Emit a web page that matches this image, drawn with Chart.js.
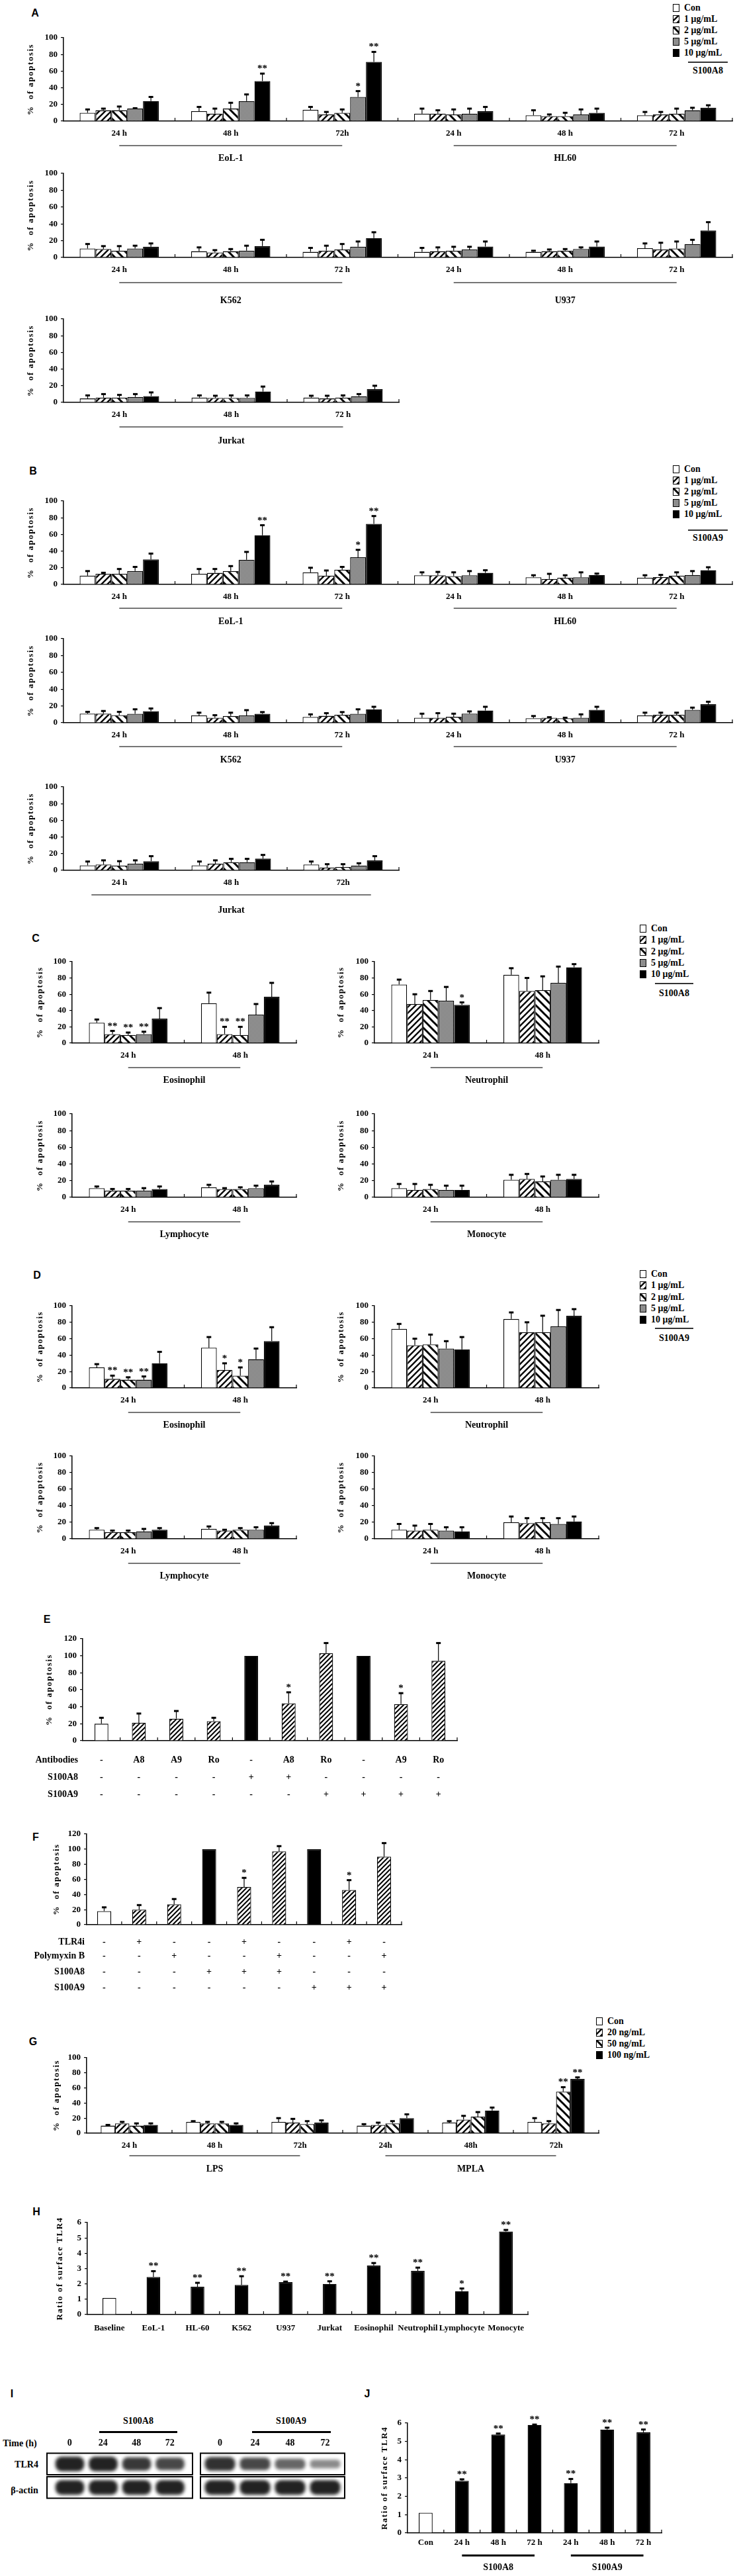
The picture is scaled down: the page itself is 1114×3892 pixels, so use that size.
<!DOCTYPE html>
<html>
<head>
<meta charset="utf-8">
<script src="https://cdn.jsdelivr.net/npm/chart.js@4.4.1/dist/chart.umd.min.js"></script>
<style>
  body { margin: 0; background: #fff; }
  #page { position: relative; width: 1114px; height: 3892px; overflow: hidden;
          font-family: "Liberation Serif", serif; font-weight: bold; color: #000; }
  .t { position: absolute; white-space: nowrap; line-height: 18px; }
  .letter { font-family: "Liberation Sans", Arial, sans-serif; font-size: 16px; }
</style>
</head>
<body>
<div id="page"></div>
<script>
// ---------- data ----------
// rows = time point, columns = Con, 1, 2, 5, 10 ug/mL
let concNames = ['Con', '1 μg/mL', '2 μg/mL', '5 μg/mL', '10 μg/mL'];
let lpsNames = ['Con', '20 ng/mL', '50 ng/mL', '100 ng/mL'];

let A1_labels = ['24 h', '48 h', '72h', '24 h', '48 h', '72 h'];
let A1_mean = [[10, 13, 13, 15, 24], [12, 9, 15, 24, 48], [13.5, 8, 10, 29, 71], [9, 9, 8, 9, 12], [7, 6, 6, 8, 10], [7, 8, 9, 13, 16]];
let A1_err = [[14, 15, 17.5, 15.5, 29], [17, 15, 22, 32, 57], [17, 11, 14, 36, 83], [15, 13, 14, 15, 17], [13, 8, 10, 14, 15], [11, 11, 15, 16, 19]];
let A1_sig = [[1, 4, '**'], [2, 3, '*'], [2, 4, '**']];

let A2_labels = ['24 h', '48 h', '72 h', '24 h', '48 h', '72 h'];
let A2_mean = [[10.6, 10, 8, 10.6, 12.7], [7.4, 6, 7.4, 8, 13.5], [6.6, 8, 9.5, 12.7, 23], [6.6, 7.4, 8, 9.5, 13], [6.6, 7.4, 8, 10, 13], [11, 9.5, 10.6, 16, 32]];
let A2_err = [[16, 13.5, 13.5, 14, 16.7], [12, 8.7, 10, 14, 21], [11.4, 14, 16, 19, 30], [11.4, 12, 12.7, 12.7, 19], [8, 9.5, 10, 12, 19], [16.7, 17.5, 19, 21, 42]];

let A3_labels = ['24 h', '48 h', '72 h'];
let A3_mean = [[4.7, 5.8, 5.8, 6.6, 7.6], [5.8, 5.3, 5.3, 5.3, 13], [5.8, 4.7, 5.8, 7.4, 16]];
let A3_err = [[8.4, 10, 9, 10, 12], [8.4, 8, 8.4, 8.4, 19], [8, 8, 8.4, 10, 20]];

let B1_labels = ['24 h', '48 h', '72 h', '24 h', '48 h', '72 h'];
let B1_mean = [[10.6, 12.7, 12.7, 16, 30], [12.7, 13.8, 16, 29.6, 59], [14.5, 10.6, 17.7, 32.5, 72.7], [11, 11, 10, 11, 13.8], [8.5, 6.6, 8, 8.5, 11.4], [8, 8.7, 10.6, 11.4, 17]];
let B1_err = [[16, 14, 18.5, 21, 37], [18.5, 18.5, 22, 39, 71], [20, 16.7, 21, 41.5, 82], [14.5, 15, 14.5, 16, 17], [11, 12.7, 11, 14.5, 13], [11, 11.4, 14.5, 16, 20.6]];
let B1_sig = [[1, 4, '**'], [2, 3, '*'], [2, 4, '**']];

let B2_labels = ['24 h', '48 h', '72 h', '24 h', '48 h', '72 h'];
let B2_mean = [[10.8, 10.8, 9, 10.6, 13.8], [8.7, 6, 8, 8.7, 10.6], [6.9, 8.2, 9.5, 10.6, 16], [6, 6, 7, 10.8, 14.5], [5.3, 6, 5.3, 6, 15.3], [8.7, 9.5, 9.5, 15.3, 22]];
let B2_err = [[13, 14, 13, 16, 17], [12, 9, 12, 15, 12.7], [10, 11.4, 12.7, 16, 19], [10.8, 11.4, 10.8, 13.5, 19], [8, 6.6, 6, 10, 19], [12, 12, 12, 18, 25]];

let B3_labels = ['24 h', '48 h', '72h'];
let B3_mean = [[6, 7, 5.8, 8, 11], [6, 8, 9.8, 9.8, 14], [7, 3.4, 4, 5.8, 12]];
let B3_err = [[10.6, 12, 11, 12, 17], [10.6, 12, 13.8, 13.8, 18.5], [10.6, 7.4, 7.4, 8.5, 17]];

let cellLabels = ['24 h', '48 h'];
let C_eos_mean = [[25, 11, 10, 11, 30], [49, 11, 10, 35, 57]];
let C_eos_err = [[29, 15, 13, 14, 43], [62, 20, 20, 48, 74]];
let C_eos_sig = [[0, 1, '**'], [0, 2, '**'], [0, 3, '**'], [1, 1, '**'], [1, 2, '**']];
let C_neu_mean = [[72, 48, 53, 52, 47], [84, 64, 65, 74, 93]];
let C_neu_err = [[78, 60, 64, 69, 50], [92, 80, 82, 94, 97]];
let C_neu_sig = [[0, 4, '*']];
let C_lym_mean = [[11, 8, 8, 8, 10], [12, 10, 10, 11, 15]];
let C_lym_err = [[13, 10, 10, 11, 13], [15, 11, 12, 14, 19]];
let C_mon_mean = [[11, 9, 10, 9, 9], [21, 22, 19, 21, 22]];
let C_mon_err = [[16, 16, 15, 14, 14], [27, 28, 25, 27, 27]];

let D_eos_mean = [[25, 11, 10, 10, 30], [49, 22, 15, 35, 57]];
let D_eos_err = [[29, 15, 13, 14, 44], [62, 30, 25, 48, 74]];
let D_eos_sig = [[0, 1, '**'], [0, 2, '**'], [0, 3, '**'], [1, 1, '*'], [1, 2, '*']];
let D_neu_mean = [[72, 52, 53, 48, 47], [84, 68, 68, 75, 88]];
let D_neu_err = [[78, 60, 65, 57, 62], [92, 80, 88, 95, 96]];
let D_lym_mean = [[11, 8, 8, 9, 11], [12, 10, 11, 11, 16]];
let D_lym_err = [[13, 10, 10, 12, 13], [15, 11, 13, 14, 19]];
let D_mon_mean = [[11, 10, 11, 10, 9], [20, 19, 20, 18, 21]];
let D_mon_err = [[18, 16, 18, 14, 14], [27, 25, 25, 25, 27]];

let E_mean = [20, 21, 26, 23, 100, 44, 103, 100, 43, 94];
let E_err = [27, 32, 35, 27, null, 57, 115, null, 56, 115];
let E_sig = ['', '', '', '', '', '*', '', '', '*', ''];
let E_kind = ['w', 'h', 'h', 'h', 'b', 'h', 'h', 'b', 'h', 'h'];
let E_antibodies = ['-', 'A8', 'A9', 'Ro', '-', 'A8', 'Ro', '-', 'A9', 'Ro'];
let E_s100a8 = ['-', '-', '-', '-', '+', '+', '-', '-', '-', '-'];
let E_s100a9 = ['-', '-', '-', '-', '-', '-', '+', '+', '+', '+'];

let F_mean = [18, 20, 27, 100, 50, 97, 100, 46, 90];
let F_err = [23, 26, 34, null, 62, 104, null, 59, 108];
let F_sig = ['', '', '', '', '*', '', '', '*', ''];
let F_kind = ['w', 'h', 'h', 'b', 'h', 'h', 'b', 'h', 'h'];
let F_tlr4i = ['-', '+', '-', '-', '+', '-', '-', '+', '-'];
let F_polymyxin = ['-', '-', '+', '-', '-', '+', '-', '-', '+'];
let F_s100a8 = ['-', '-', '-', '+', '+', '+', '-', '-', '-'];
let F_s100a9 = ['-', '-', '-', '-', '-', '-', '+', '+', '+'];

let G_labels = ['24 h', '48 h', '72h', '24h', '48h', '72h'];
let G_mean = [[10, 13, 10, 11], [15, 13, 13, 11], [15, 14, 12, 14], [10, 11, 13, 20], [14, 18, 22, 30], [15, 13, 55, 72]];
let G_err = [[11, 15, 13, 13], [16, 15, 15, 13], [20, 19, 16, 17], [12, 14, 16, 25], [16, 23, 28, 34], [20, 16, 61, 74]];
let G_sig = [[5, 2, '**'], [5, 3, '**']];

let H_labels = ['Baseline', 'EoL-1', 'HL-60', 'K562', 'U937', 'Jurkat', 'Eosinophil', 'Neutrophil', 'Lymphocyte', 'Monocyte'];
let H_mean = [1.08, 2.45, 1.81, 1.93, 2.12, 2.0, 3.2, 2.85, 1.52, 5.42];
let H_err = [null, 2.83, 2.07, 2.5, 2.15, 2.17, 3.36, 3.06, 1.7, 5.52];
let H_sig = ['', '**', '**', '**', '**', '**', '**', '**', '*', '**'];

let J_labels = ['Con', '24 h', '48 h', '72 h', '24 h', '48 h', '72 h'];
let J_mean = [1.1, 2.85, 5.38, 5.9, 2.72, 5.65, 5.5];
let J_err = [null, 2.93, 5.43, 5.92, 2.95, 5.75, 5.65];
let J_sig = ['', '**', '**', '**', '**', '**', '**'];

// western blot lanes and rough band strength (0..1)
let laneLabels = ['0', '24', '48', '72'];
let tlr4_A8 = [1.0, 1.0, 0.85, 0.75];
let tlr4_A9 = [0.9, 0.75, 0.55, 0.3];
let actin_A8 = [1, 1, 1, 1];
let actin_A9 = [1, 1, 1, 1];

// ---------- helpers ----------
Chart.defaults.font.family = '"Liberation Serif", serif';
Chart.defaults.font.weight = 'bold';
Chart.defaults.font.size = 13;
Chart.defaults.color = '#000';

let page = document.getElementById('page');
let decoCfg = new Map();

function put(el, x, y) {
    el.style.position = 'absolute';
    el.style.left = x + 'px';
    el.style.top = y + 'px';
    page.appendChild(el);
}

function label(text, x, y, align, size, cls) {
    let d = document.createElement('div');
    d.className = 't' + (cls ? ' ' + cls : '');
    d.textContent = text;
    d.style.fontSize = (size || 13) + 'px';
    put(d, x, y - 9);
    if (align === 'center') d.style.transform = 'translateX(-50%)';
    if (align === 'right') d.style.transform = 'translateX(-100%)';
}

function hline(x1, x2, y, w, color) {
    let d = document.createElement('div');
    d.style.width = (x2 - x1) + 'px';
    d.style.height = w + 'px';
    d.style.background = color;
    put(d, x1, y - w / 2);
}

function hatch(size, lw, dir) {
    let c = document.createElement('canvas');
    c.width = c.height = size;
    let g = c.getContext('2d');
    g.fillStyle = '#fff';
    g.fillRect(0, 0, size, size);
    g.strokeStyle = '#000';
    g.lineWidth = lw;
    g.beginPath();
    if (dir > 0) {
        g.moveTo(0, size); g.lineTo(size, 0);
        g.moveTo(-size / 2, size / 2); g.lineTo(size / 2, -size / 2);
        g.moveTo(size / 2, size * 1.5); g.lineTo(size * 1.5, size / 2);
    } else {
        g.moveTo(0, 0); g.lineTo(size, size);
        g.moveTo(-size / 2, size / 2); g.lineTo(size / 2, size * 1.5);
        g.moveTo(size / 2, -size / 2); g.lineTo(size * 1.5, size / 2);
    }
    g.stroke();
    return g.createPattern(c, 'repeat');
}

function dots() {
    let c = document.createElement('canvas');
    c.width = c.height = 2;
    let g = c.getContext('2d');
    g.fillStyle = '#cfcfcf'; g.fillRect(0, 0, 2, 2);
    g.fillStyle = '#4a4a4a'; g.fillRect(0, 0, 1, 1); g.fillRect(1, 1, 1, 1);
    return g.createPattern(c, 'repeat');
}

let fills5 = ['#fff', hatch(9, 2.4, 1), hatch(12, 3, -1), dots(), '#000'];
let fillsG = ['#fff', hatch(9, 2.4, 1), hatch(12, 3, -1), '#000'];
let kindFill = { w: '#fff', h: hatch(7, 2, 1), b: '#000' };

function cols(rows) {
    return rows[0].map((_, j) => rows.map(r => r[j]));
}

function sigGrid(nCat, nSer, list) {
    let s = [];
    for (let j = 0; j < nSer; j++) s.push(new Array(nCat).fill(''));
    (list || []).forEach(t => { s[t[1]][t[0]] = t[2]; });
    return s;
}

function seriesOf(names, fills, mean, err, sig) {
    let m = cols(mean), e = cols(err), s = sigGrid(mean.length, names.length, sig);
    return names.map((n, j) => ({ label: n, data: m[j], err: e[j], sig: s[j], fill: fills[j] }));
}

// error bars, stars, axis title, small tick marks, group lines and the condition table
Chart.register({
    id: 'deco',
    afterDatasetsDraw(chart) {
        let cfg = decoCfg.get(chart.canvas);
        if (!cfg || cfg.blot) return;
        let ctx = chart.ctx, y = chart.scales.y;
        chart.data.datasets.forEach((ds, di) => {
            if (!ds.err) return;
            chart.getDatasetMeta(di).data.forEach((el, i) => {
                let e = ds.err[i];
                if (e == null) return;
                let yt = y.getPixelForValue(e);
                ctx.save();
                ctx.strokeStyle = '#000';
                ctx.lineWidth = 1.2;
                ctx.beginPath();
                ctx.moveTo(el.x, el.y);
                ctx.lineTo(el.x, yt);
                ctx.stroke();
                ctx.fillStyle = '#000';
                ctx.fillRect(el.x - cfg.cap / 2, yt - 1.5, cfg.cap, 3);
                if (ds.sig && ds.sig[i]) {
                    ctx.font = 'bold 15px "Liberation Serif"';
                    ctx.textAlign = 'center';
                    ctx.textBaseline = 'alphabetic';
                    ctx.fillText(ds.sig[i], el.x, yt - 3);
                }
                ctx.restore();
            });
        });
    },
    afterDraw(chart) {
        let cfg = decoCfg.get(chart.canvas);
        if (!cfg) return;
        let ctx = chart.ctx, ca = chart.chartArea, x = chart.scales.x, y = chart.scales.y;
        ctx.save();
        if (cfg.blot) {
            ctx.strokeStyle = '#000';
            ctx.lineWidth = 2;
            let l = ca.left - cfg.boxPad, r = ca.right + cfg.boxPad;
            [[2, 1], [1, 0]].forEach(p => {
                let t = y.getPixelForValue(p[0]) + 1.5, b = y.getPixelForValue(p[1]) - 1.5;
                ctx.strokeRect(l, t, r - l, b - t);
            });
            ctx.restore();
            return;
        }
        // y title
        ctx.font = 'bold 13px "Liberation Serif"';
        ctx.letterSpacing = '1.5px';
        ctx.translate(cfg.titleX, (ca.top + ca.bottom) / 2);
        ctx.rotate(-Math.PI / 2);
        ctx.textAlign = 'center';
        ctx.textBaseline = 'middle';
        ctx.fillText(cfg.title, 0, 0);
        ctx.restore();
        ctx.save();
        // little upward ticks between categories
        ctx.strokeStyle = '#000';
        ctx.lineWidth = 1.2;
        let n = chart.data.labels.length;
        for (let k = 1; k <= n; k++) {
            let px = x.getPixelForValue(k - 0.5);
            ctx.beginPath();
            ctx.moveTo(px, ca.bottom);
            ctx.lineTo(px, ca.bottom - 5);
            ctx.stroke();
        }
        // group underline + name
        cfg.groups.forEach(g => {
            let x1 = x.getPixelForValue(g.from - (g.pad || 0)), x2 = x.getPixelForValue(g.to + (g.pad || 0));
            ctx.fillStyle = cfg.lineColor;
            ctx.fillRect(x1, ca.bottom + cfg.lineGap - cfg.lineW / 2, x2 - x1, cfg.lineW);
            ctx.fillStyle = '#000';
            ctx.font = 'bold 14px "Liberation Serif"';
            ctx.textAlign = 'center';
            ctx.textBaseline = 'middle';
            ctx.fillText(g.name, (x1 + x2) / 2, ca.bottom + cfg.nameGap);
        });
        // condition table
        cfg.rows.forEach(r => {
            ctx.fillStyle = '#000';
            ctx.font = 'bold 14px "Liberation Serif"';
            ctx.textBaseline = 'middle';
            ctx.textAlign = 'right';
            ctx.fillText(r.name, cfg.rowNameX, ca.bottom + r.dy);
            ctx.textAlign = 'center';
            r.cells.forEach((c, i) => ctx.fillText(c, x.getPixelForValue(i), ca.bottom + r.dy));
        });
        ctx.restore();
    }
});

// grouped bar chart whose plot area lands on the given page pixels
function barChart(c) {
    let padTop = 40, padRight = 14;
    let canvasLeft = c.titleX - 16;
    if (c.rowNameX) canvasLeft = Math.max(0, Math.min(canvasLeft, c.rowNameX - 110));
    let yw = c.left - canvasLeft;
    let W = c.right - canvasLeft + padRight;
    let canvasTop = c.top - padTop;
    let H = c.bottom - canvasTop + c.below;
    let cv = document.createElement('canvas');
    cv.width = W; cv.height = H;
    cv.style.width = W + 'px'; cv.style.height = H + 'px';
    put(cv, canvasLeft, canvasTop);
    decoCfg.set(cv, {
        title: c.title || '%  of apoptosis', titleX: c.titleX - canvasLeft,
        groups: c.groups || [], lineGap: c.lineGap || 37, nameGap: c.nameGap || 56,
        lineW: c.lineW || 1.6, lineColor: c.lineColor || '#555',
        rows: c.rows || [], rowNameX: (c.rowNameX || 0) - canvasLeft, cap: c.cap || 7
    });
    new Chart(cv, {
        type: 'bar',
        data: {
            labels: c.labels,
            datasets: c.sets.map(s => ({
                label: s.label, data: s.data, err: s.err, sig: s.sig,
                backgroundColor: s.fill, borderColor: '#000', borderWidth: 1.3,
                borderSkipped: 'bottom',
                categoryPercentage: c.catPct || 0.71, barPercentage: c.barPct || 1
            }))
        },
        options: {
            responsive: false,
            animation: false,
            events: [],
            layout: { padding: { top: padTop, right: padRight, left: 0, bottom: 0 } },
            plugins: { legend: { display: false }, tooltip: { enabled: false } },
            scales: {
                x: {
                    grid: { display: false, drawTicks: false },
                    border: { display: true, color: '#000', width: 1.5 },
                    ticks: { display: c.showLabels !== false, padding: c.labelPad || 11, autoSkip: false,
                             maxRotation: 0, minRotation: 0, font: { size: c.labelSize || 13 } },
                    afterFit(s) { s.height = c.below; }
                },
                y: {
                    min: 0, max: c.yMax,
                    ticks: { stepSize: c.step, padding: 5, font: { size: 13 } },
                    grid: { drawOnChartArea: false, drawTicks: true, tickLength: 4, color: '#000', lineWidth: 1.2 },
                    border: { display: true, color: '#000', width: 1.5 },
                    afterFit(s) { s.width = yw; }
                }
            }
        }
    });
}

function singleSeries(mean, err, sig, fills) {
    return [{ label: '', data: mean, err: err, sig: sig, fill: fills }];
}

function legend(x, y, dy, names, fills, foot) {
    names.forEach((n, i) => {
        let sw = document.createElement('canvas');
        sw.width = 10; sw.height = 12;
        let g = sw.getContext('2d');
        g.fillStyle = fills[i];
        g.fillRect(0, 0, 10, 12);
        g.strokeStyle = '#000';
        g.lineWidth = 1;
        g.strokeRect(0.5, 0.5, 9, 11);
        put(sw, x, y + i * dy - 6);
        label(n, x + 17, y + i * dy, 'left', 14);
    });
    if (foot) {
        hline(foot.x1, foot.x2, foot.y, 1.6, '#333');
        label(foot.text, (foot.x1 + foot.x2) / 2, foot.ty, 'center', 14);
    }
}

function bandSprite(v, w, kind) {
    let h = kind === 'actin' ? 22 : 9 + 13 * v;
    let a = kind === 'actin' ? 0.92 : 0.3 + 0.62 * v;
    let c = document.createElement('canvas');
    c.width = w + 14; c.height = Math.round(h + 14);
    let g = c.getContext('2d');
    g.filter = 'blur(2.5px)';
    g.fillStyle = 'rgba(15,15,15,' + a + ')';
    g.beginPath();
    if (g.roundRect) g.roundRect(7, 7, w, h, h / 2.4);
    else g.ellipse(c.width / 2, c.height / 2, w / 2, h / 2, 0, 0, 2 * Math.PI);
    g.fill();
    return c;
}

// western blot strip: lanes on a category axis, two rows on a hidden linear axis
function blot(c) {
    let axisH = 30;
    let canvasLeft = c.left - 14, W = c.right - c.left + 28;
    let canvasTop = c.top - axisH, H = c.bottom - canvasTop + 4;
    let cv = document.createElement('canvas');
    cv.width = W; cv.height = H;
    cv.style.width = W + 'px'; cv.style.height = H + 'px';
    put(cv, canvasLeft, canvasTop);
    decoCfg.set(cv, { blot: true, boxPad: c.boxPad });
    let bw = (c.right - c.left) / laneLabels.length - 7;
    new Chart(cv, {
        type: 'scatter',
        data: {
            datasets: [
                { data: laneLabels.map(l => ({ x: l, y: 1.5 })), pointStyle: c.tlr4.map(v => bandSprite(v, bw, 'tlr4')), clip: false },
                { data: laneLabels.map(l => ({ x: l, y: 0.5 })), pointStyle: c.actin.map(v => bandSprite(v, bw, 'actin')), clip: false }
            ]
        },
        options: {
            responsive: false,
            animation: false,
            events: [],
            layout: { padding: { left: 14, right: 14, top: 0, bottom: 4 } },
            plugins: { legend: { display: false }, tooltip: { enabled: false } },
            scales: {
                x: {
                    type: 'category', labels: laneLabels, offset: true, position: 'top',
                    grid: { display: false, drawTicks: false }, border: { display: false },
                    ticks: { padding: 5, font: { size: 14 } },
                    afterFit(s) { s.height = axisH; }
                },
                y: { min: 0, max: 2, display: false }
            }
        }
    });
}

// ---------- panel A ----------
label('A', 53, 20, 'center', 16, 'letter');
legend(1017, 12, 17, concNames, fills5, { x1: 1040, x2: 1100, y: 94, text: 'S100A8', ty: 107 });
barChart({ left: 96, right: 1107, top: 57, bottom: 183, yMax: 100, step: 20, titleX: 47, below: 70,
    labels: A1_labels, sets: seriesOf(concNames, fills5, A1_mean, A1_err, A1_sig),
    groups: [{ name: 'EoL-1', from: 0, to: 2 }, { name: 'HL60', from: 3, to: 5 }], lineGap: 37, nameGap: 56 });
barChart({ left: 96, right: 1107, top: 262, bottom: 389, yMax: 100, step: 20, titleX: 47, below: 76,
    labels: A2_labels, sets: seriesOf(concNames, fills5, A2_mean, A2_err),
    groups: [{ name: 'K562', from: 0, to: 2 }, { name: 'U937', from: 3, to: 5 }], lineGap: 38, nameGap: 65 });
barChart({ left: 96, right: 603, top: 482, bottom: 608, yMax: 100, step: 20, titleX: 47, below: 70,
    labels: A3_labels, sets: seriesOf(concNames, fills5, A3_mean, A3_err),
    groups: [{ name: 'Jurkat', from: 0, to: 2 }], lineGap: 37, nameGap: 58 });

// ---------- panel B ----------
label('B', 50, 712, 'center', 16, 'letter');
legend(1017, 709, 17, concNames, fills5, { x1: 1040, x2: 1100, y: 801, text: 'S100A9', ty: 813 });
barChart({ left: 96, right: 1107, top: 757, bottom: 883, yMax: 100, step: 20, titleX: 47, below: 70,
    labels: B1_labels, sets: seriesOf(concNames, fills5, B1_mean, B1_err, B1_sig),
    groups: [{ name: 'EoL-1', from: 0, to: 2 }, { name: 'HL60', from: 3, to: 5 }], lineGap: 36, nameGap: 56 });
barChart({ left: 96, right: 1107, top: 965, bottom: 1092, yMax: 100, step: 20, titleX: 47, below: 70,
    labels: B2_labels, sets: seriesOf(concNames, fills5, B2_mean, B2_err),
    groups: [{ name: 'K562', from: 0, to: 2 }, { name: 'U937', from: 3, to: 5 }], lineGap: 36, nameGap: 56 });
barChart({ left: 96, right: 603, top: 1189, bottom: 1315, yMax: 100, step: 20, titleX: 47, below: 72,
    labels: B3_labels, sets: seriesOf(concNames, fills5, B3_mean, B3_err),
    groups: [{ name: 'Jurkat', from: 0, to: 2, pad: 0.25 }], lineGap: 37, nameGap: 60 });

// ---------- panels C and D ----------
function cellPanel(top, bottom, eos, neu, names) {
    barChart({ left: 109, right: 448, top: top, bottom: bottom, yMax: 100, step: 20, titleX: 61, below: 70,
        labels: cellLabels, sets: eos, groups: [{ name: names[0], from: 0, to: 1 }], lineGap: 37, nameGap: 56, catPct: 0.7 });
    barChart({ left: 566, right: 905, top: top, bottom: bottom, yMax: 100, step: 20, titleX: 516, below: 70,
        labels: cellLabels, sets: neu, groups: [{ name: names[1], from: 0, to: 1 }], lineGap: 37, nameGap: 56, catPct: 0.7 });
}

label('C', 54, 1418, 'center', 16, 'letter');
legend(967, 1403, 17.3, concNames, fills5, { x1: 990, x2: 1048, y: 1486, text: 'S100A8', ty: 1501 });
cellPanel(1453, 1576, seriesOf(concNames, fills5, C_eos_mean, C_eos_err, C_eos_sig),
    seriesOf(concNames, fills5, C_neu_mean, C_neu_err, C_neu_sig), ['Eosinophil', 'Neutrophil']);
cellPanel(1683, 1809, seriesOf(concNames, fills5, C_lym_mean, C_lym_err),
    seriesOf(concNames, fills5, C_mon_mean, C_mon_err), ['Lymphocyte', 'Monocyte']);

label('D', 56, 1927, 'center', 16, 'letter');
legend(967, 1925, 17.3, concNames, fills5, { x1: 990, x2: 1048, y: 2007, text: 'S100A9', ty: 2022 });
cellPanel(1973, 2097, seriesOf(concNames, fills5, D_eos_mean, D_eos_err, D_eos_sig),
    seriesOf(concNames, fills5, D_neu_mean, D_neu_err), ['Eosinophil', 'Neutrophil']);
cellPanel(2200, 2325, seriesOf(concNames, fills5, D_lym_mean, D_lym_err),
    seriesOf(concNames, fills5, D_mon_mean, D_mon_err), ['Lymphocyte', 'Monocyte']);

// ---------- panel E ----------
label('E', 71, 2447, 'center', 16, 'letter');
barChart({ left: 125, right: 691, top: 2476, bottom: 2630, yMax: 120, step: 20, titleX: 75, below: 100,
    labels: E_mean.map((_, i) => String(i)), showLabels: false,
    sets: singleSeries(E_mean, E_err, E_sig, E_kind.map(k => kindFill[k])), catPct: 1, barPct: 0.37,
    rowNameX: 118,
    rows: [{ name: 'Antibodies', cells: E_antibodies, dy: 29 }, { name: 'S100A8', cells: E_s100a8, dy: 55 },
           { name: 'S100A9', cells: E_s100a9, dy: 81 }] });

// ---------- panel F ----------
label('F', 54, 2776, 'center', 16, 'letter');
barChart({ left: 131, right: 607, top: 2771, bottom: 2908, yMax: 120, step: 20, titleX: 86, below: 110,
    labels: F_mean.map((_, i) => String(i)), showLabels: false,
    sets: singleSeries(F_mean, F_err, F_sig, F_kind.map(k => kindFill[k])), catPct: 1, barPct: 0.4,
    rowNameX: 128,
    rows: [{ name: 'TLR4i', cells: F_tlr4i, dy: 26 }, { name: 'Polymyxin B', cells: F_polymyxin, dy: 47 },
           { name: 'S100A8', cells: F_s100a8, dy: 71 }, { name: 'S100A9', cells: F_s100a9, dy: 95 }] });

// ---------- panel G ----------
label('G', 50, 3085, 'center', 16, 'letter');
legend(901, 3054, 17, lpsNames, fillsG);
barChart({ left: 131, right: 905, top: 3109, bottom: 3223, yMax: 100, step: 20, titleX: 86, below: 66,
    labels: G_labels, sets: seriesOf(lpsNames, fillsG, G_mean, G_err, G_sig), catPct: 0.67,
    groups: [{ name: 'LPS', from: 0, to: 2 }, { name: 'MPLA', from: 3, to: 5 }], lineGap: 34, nameGap: 54 });

// ---------- panel H ----------
label('H', 55, 3342, 'center', 16, 'letter');
barChart({ left: 132, right: 798, top: 3358, bottom: 3497, yMax: 6, step: 1, titleX: 91, below: 40,
    title: 'Ratio of surface TLR4', labels: H_labels, labelPad: 13,
    sets: singleSeries(H_mean, H_err, H_sig, H_mean.map((_, i) => i === 0 ? '#fff' : '#000')),
    catPct: 1, barPct: 0.31 });

// ---------- panel I (western blot) ----------
label('I', 18, 3617, 'center', 16, 'letter');
label('S100A8', 209, 3658, 'center', 14);
hline(150, 268, 3674, 3, '#000');
label('S100A9', 440, 3658, 'center', 14);
hline(381, 500, 3674, 3, '#000');
label('Time (h)', 30, 3692, 'center', 14);
label('TLR4', 40, 3724, 'center', 14);
label('β-actin', 37, 3763, 'center', 14);
blot({ left: 80, right: 282, top: 3705, bottom: 3777, boxPad: 9, tlr4: tlr4_A8, actin: actin_A8 });
blot({ left: 306, right: 518, top: 3705, bottom: 3777, boxPad: 3, tlr4: tlr4_A9, actin: actin_A9 });

// ---------- panel J ----------
label('J', 555, 3617, 'center', 16, 'letter');
barChart({ left: 616, right: 1000, top: 3661, bottom: 3827, yMax: 6, step: 1, titleX: 582, below: 62,
    title: 'Ratio of surface TLR4', labels: J_labels, labelPad: 7,
    sets: singleSeries(J_mean, J_err, J_sig, J_mean.map((_, i) => i === 0 ? '#fff' : '#000')),
    catPct: 1, barPct: 0.38, lineW: 3, lineColor: '#000',
    groups: [{ name: 'S100A8', from: 1, to: 3 }, { name: 'S100A9', from: 4, to: 6 }], lineGap: 34, nameGap: 52 });
</script>
</body>
</html>
